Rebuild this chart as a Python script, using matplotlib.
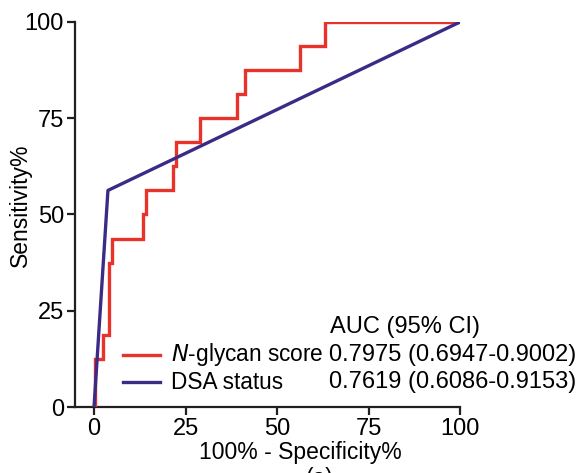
import matplotlib
matplotlib.use("Agg")
import matplotlib.pyplot as plt

plt.rcParams['font.family'] = ['Liberation Sans', 'DejaVu Sans']

# N-glycan score ROC (step curve): 100% - specificity vs sensitivity
glycan_fpr = [0, 0.4, 0.4, 2.5, 2.5, 4.2, 4.2, 4.8, 4.8, 13.5, 13.5, 14.1, 14.1,
              21.5, 21.5, 22.4, 22.4, 29.0, 29.0, 39.0, 39.0, 41.3, 41.3,
              56.3, 56.3, 63.1, 63.1, 100]
glycan_sens = [0, 0, 12.5, 12.5, 18.75, 18.75, 37.5, 37.5, 43.75, 43.75, 50, 50,
               56.25, 56.25, 62.5, 62.5, 68.75, 68.75, 75, 75, 81.25, 81.25,
               87.5, 87.5, 93.75, 93.75, 100, 100]
# DSA status ROC
dsa_fpr = [0, 3.8, 100]
dsa_sens = [0, 56.25, 100]

series_names = ["N-glycan score", "DSA status"]
auc_header = "AUC (95% CI)"
auc_texts = ["0.7975 (0.6947-0.9002)", "0.7619 (0.6086-0.9153)"]
ticks = [0, 25, 50, 75, 100]

red = "#E8332B"
blue = "#3B2A86"
FS = 17

fig = plt.figure(figsize=(5.82, 4.73), dpi=100)
ax = fig.add_axes([75/582, 1-407/473, (460-75)/582, (407-22)/473])

ax.plot(glycan_fpr, glycan_sens, color=red, lw=2.4, solid_joinstyle='miter', zorder=3)
ax.plot(dsa_fpr, dsa_sens, color=blue, lw=2.4, zorder=4)

ax.set_xlim(-5.2, 100)
ax.set_ylim(0, 100)
ax.set_xticks(ticks)
ax.set_yticks(ticks)
for s in ['top', 'right']:
    ax.spines[s].set_visible(False)
for s in ['left', 'bottom']:
    ax.spines[s].set_linewidth(1.6)
    ax.spines[s].set_color('#231F20')
ax.tick_params(direction='out', length=6, width=1.6, color='#231F20',
               labelsize=FS, pad=2)


def px(x, y):
    return (x/582, 1-y/473)


fig.text(*px(20, 205), "Sensitivity%", fontsize=16.5, rotation=90,
         ha='center', va='center')
fig.text(*px(300, 452), "100% - Specificity%", fontsize=16.5,
         ha='center', va='center')
fig.text(*px(319, 467), "(a)", fontsize=16.5, ha='center', va='top')

# legend-like annotation
fig.text(*px(330, 327), auc_header, fontsize=FS, ha='left', va='center')
rows_y = [355, 382]
colors = [red, blue]
for i, (name, auc, c) in enumerate(zip(series_names, auc_texts, colors)):
    y = rows_y[i]
    fig.add_artist(plt.Line2D([123/582, 160/582], [1-y/473, 1-y/473],
                              color=c, lw=2.4, transform=fig.transFigure))
    if i == 0:
        fig.text(*px(171, y), r"$\it{N}$" + "-glycan score", fontsize=16.3,
                 ha='left', va='center')
    else:
        fig.text(*px(171, y), name, fontsize=16.3, ha='left', va='center')
    fig.text(*px(329, y), auc, fontsize=FS, ha='left', va='center')

fig.savefig("out.png", dpi=100)
